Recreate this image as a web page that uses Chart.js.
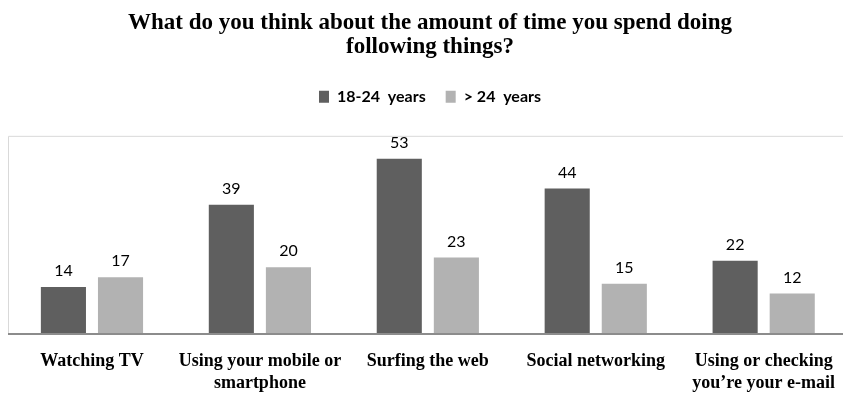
<!DOCTYPE html>
<html>
<head>
<meta charset="utf-8">
<script src="https://cdn.jsdelivr.net/npm/chart.js@4.4.0/dist/chart.umd.min.js"></script>
<style>
  html, body { margin: 0; padding: 0; background: #fff; overflow: hidden; }
  #wrap { position: relative; width: 852px; height: 404px; }
</style>
</head>
<body>
<div id="wrap"><canvas id="timeChart"></canvas></div>
<script>
const categories = [
    'Watching TV',
    ['Using your mobile or', 'smartphone'],
    'Surfing the web',
    'Social networking',
    ['Using or checking', 'you\u2019re your e-mail']
];
const seriesNames = ['18-24  years', '> 24  years'];
const young = [14, 39, 53, 44, 22];
const older = [17, 20, 23, 15, 12];
const colors = ['#5f5f5f', '#b2b2b2'];

// value labels above each bar
const valueLabels = {
    id: 'valueLabels',
    afterDatasetsDraw(chart) {
        const ctx = chart.ctx;
        ctx.save();
        ctx.font = '16px Lato, "Open Sans", sans-serif';
        ctx.fillStyle = '#000';
        ctx.textAlign = 'center';
        ctx.textBaseline = 'bottom';
        chart.data.datasets.forEach((ds, i) => {
            chart.getDatasetMeta(i).data.forEach((bar, j) => {
                ctx.fillText(ds.data[j], bar.x, bar.y - 8);
            });
        });
        ctx.restore();
    }
};

// plot area frame: light top/left edges, darker baseline
const plotFrame = {
    id: 'plotFrame',
    beforeDatasetsDraw(chart) {
        const a = chart.chartArea;
        const ctx = chart.ctx;
        ctx.save();
        ctx.strokeStyle = '#d9d9d9';
        ctx.lineWidth = 1;
        ctx.beginPath();
        ctx.moveTo(a.left + 0.5, a.bottom);
        ctx.lineTo(a.left + 0.5, a.top + 0.5);
        ctx.lineTo(a.right, a.top + 0.5);
        ctx.stroke();
        ctx.restore();
    },
    afterDatasetsDraw(chart) {
        const a = chart.chartArea;
        const ctx = chart.ctx;
        ctx.save();
        ctx.strokeStyle = '#8c8c8c';
        ctx.lineWidth = 2;
        ctx.beginPath();
        ctx.moveTo(a.left, a.bottom + 1);
        ctx.lineTo(a.right, a.bottom + 1);
        ctx.stroke();
        ctx.restore();
    }
};

// extra gap under the legend
const legendGap = {
    id: 'legendGap',
    beforeInit(chart) {
        const fit = chart.legend.fit;
        chart.legend.fit = function () {
            fit.bind(chart.legend)();
            this.height += 21;
        };
    }
};

new Chart(document.getElementById('timeChart'), {
    type: 'bar',
    data: {
        labels: categories,
        datasets: [
            { label: seriesNames[0], data: young, backgroundColor: colors[0] },
            { label: seriesNames[1], data: older, backgroundColor: colors[1] }
        ]
    },
    options: {
        responsive: true,
        maintainAspectRatio: false,
        animation: false,
        datasets: { bar: { categoryPercentage: 0.68, barPercentage: 0.79 } },
        layout: { padding: { left: 8, right: 0, top: 0, bottom: 0 } },
        plugins: {
            title: {
                display: true,
                text: ['What do you think about the amount of time you spend doing', 'following things?'],
                color: '#000',
                font: { family: '"Liberation Serif", "Times New Roman", serif', size: 23, weight: 'bold', lineHeight: 1.04 },
                padding: { top: 11, bottom: 10 }
            },
            legend: {
                position: 'top',
                labels: {
                    boxWidth: 10,
                    boxHeight: 12,
                    color: '#000',
                    font: { family: 'Lato, "Open Sans", sans-serif', size: 16, weight: 'bold' },
                    padding: 20
                }
            },
            tooltip: { enabled: false }
        },
        scales: {
            x: {
                grid: { display: false, drawTicks: false },
                border: { display: false },
                afterFit(scale) { scale.height = 71; },
                ticks: {
                    color: '#000',
                    maxRotation: 0,
                    autoSkip: false,
                    padding: 17,
                    font: { family: '"Liberation Serif", "Times New Roman", serif', size: 18, weight: 'bold', lineHeight: 1.25 }
                }
            },
            y: {
                display: false,
                min: 0,
                max: 60
            }
        }
    },
    plugins: [legendGap, plotFrame, valueLabels]
});
</script>
</body>
</html>
